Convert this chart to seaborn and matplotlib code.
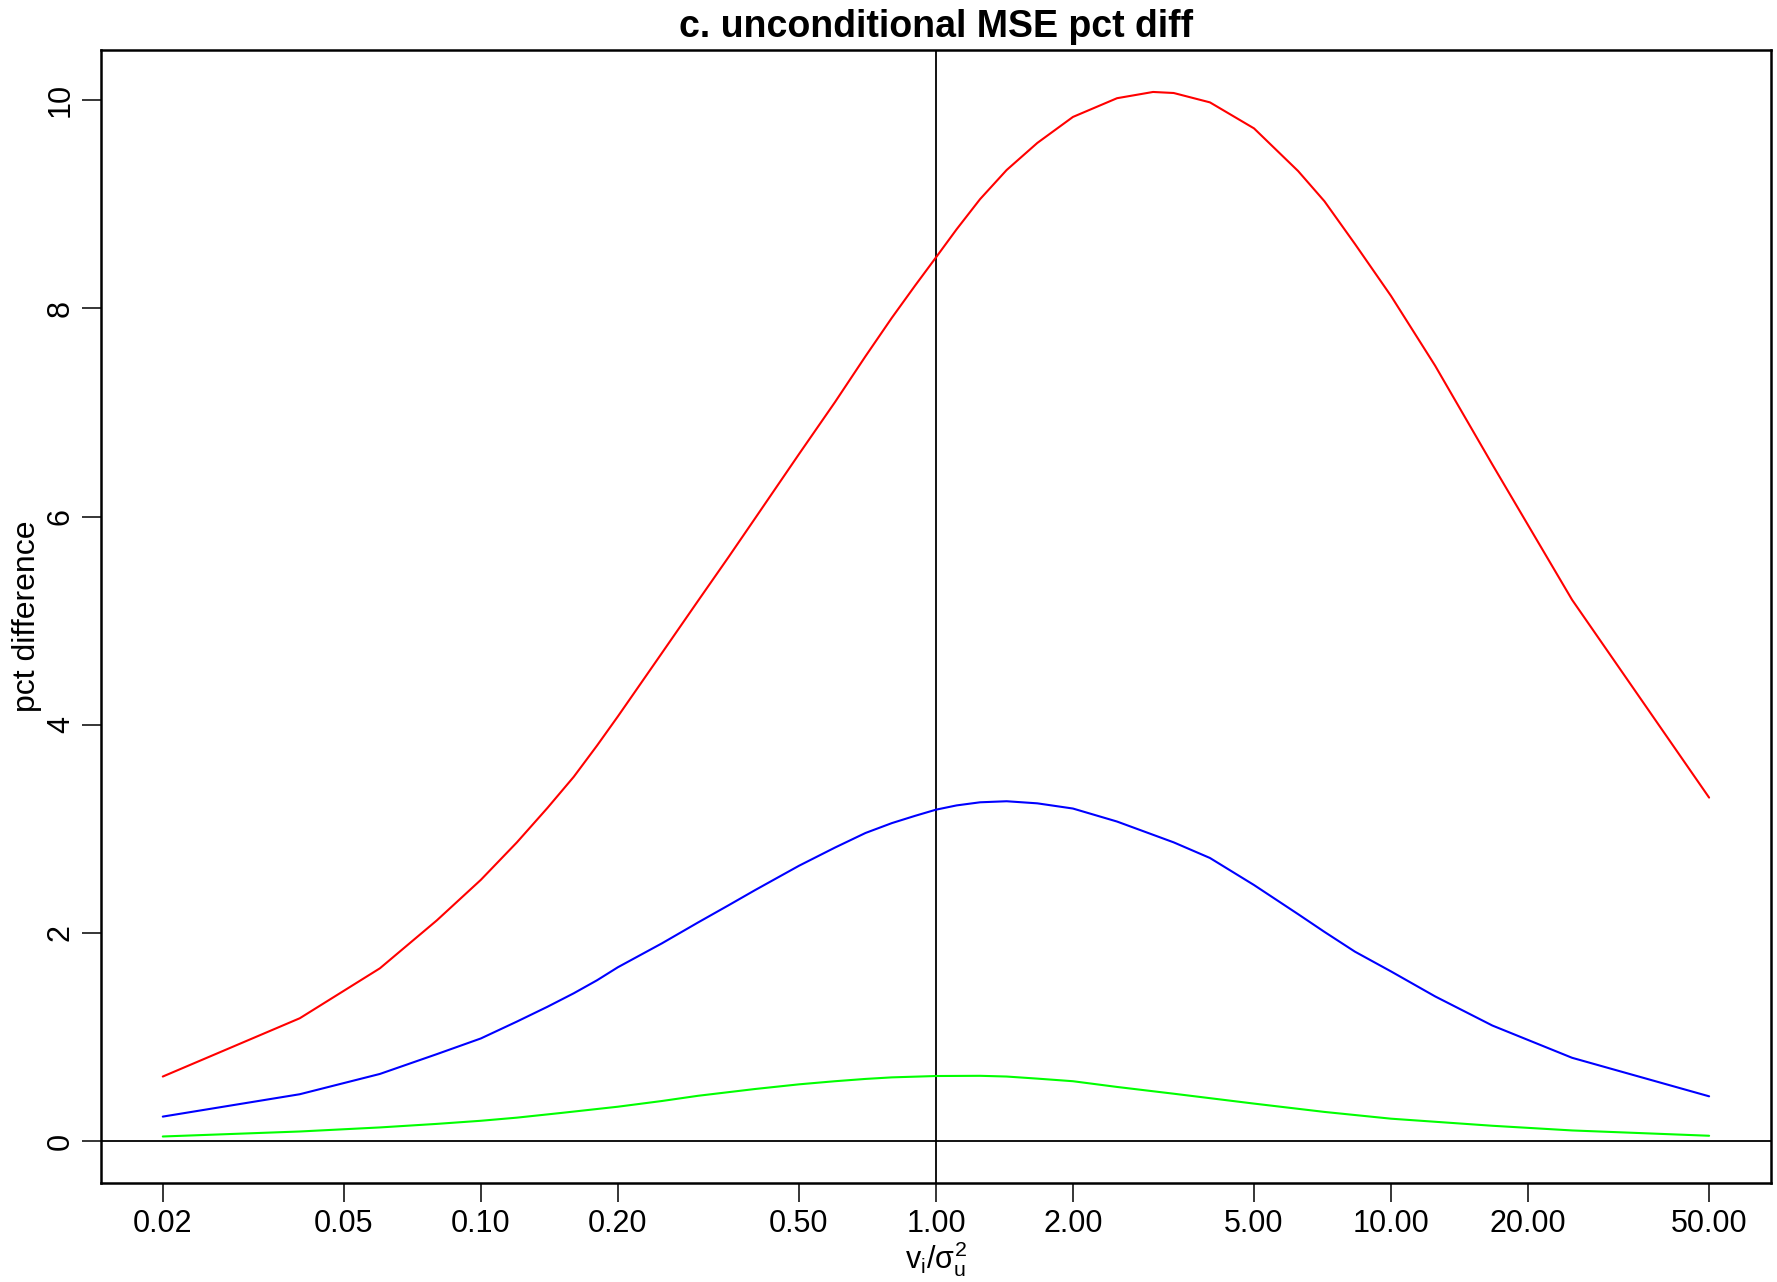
import matplotlib
matplotlib.use("Agg")
import matplotlib.pyplot as plt
import numpy as np
import pandas as pd
import seaborn as sns

sns.set_style("white")
plt.rcParams["font.family"] = ["Liberation Sans", "DejaVu Sans"]
plt.rcParams["mathtext.fontset"] = "custom"
plt.rcParams["mathtext.rm"] = "Liberation Sans"
plt.rcParams["mathtext.it"] = "Liberation Sans"
plt.rcParams["mathtext.bf"] = "Liberation Sans:bold"
plt.rcParams["text.color"] = "black"
plt.rcParams["axes.labelcolor"] = "black"

# values
red_x = [0.02, 0.04, 0.06, 0.08, 0.10, 0.12, 0.14, 0.16, 0.18, 0.20, 0.25, 0.30,
         0.35, 0.40, 0.50, 0.60, 0.70, 0.80, 0.90, 1.00, 1.11, 1.25, 1.43, 1.67,
         2.00, 2.50, 3.00, 3.33, 4.00, 5.00, 6.25, 7.14, 8.33, 10.0, 12.5, 16.7,
         25.0, 50.0]
red_y = [0.62, 1.18, 1.66, 2.12, 2.51, 2.87, 3.20, 3.50, 3.80, 4.08, 4.69, 5.19,
         5.61, 5.98, 6.60, 7.10, 7.54, 7.91, 8.22, 8.49, 8.76, 9.05, 9.33, 9.59,
         9.84, 10.02, 10.08, 10.07, 9.98, 9.73, 9.32, 9.03, 8.62, 8.12, 7.45, 6.50,
         5.20, 3.30]

blue_x = [0.02, 0.04, 0.06, 0.08, 0.10, 0.12, 0.14, 0.16, 0.18, 0.20, 0.25, 0.30,
          0.35, 0.40, 0.50, 0.60, 0.70, 0.80, 0.90, 1.00, 1.11, 1.25, 1.43, 1.67,
          2.00, 2.50, 3.33, 4.00, 5.00, 6.25, 7.14, 8.33, 10.0, 12.5, 16.7, 25.0,
          50.0]
blue_y = [0.235, 0.45, 0.645, 0.835, 0.986, 1.148, 1.29, 1.42, 1.545, 1.67, 1.90,
          2.10, 2.265, 2.41, 2.645, 2.82, 2.96, 3.055, 3.125, 3.184, 3.225, 3.255,
          3.265, 3.245, 3.195, 3.07, 2.87, 2.72, 2.46, 2.18, 2.01, 1.82, 1.63, 1.39,
          1.11, 0.80, 0.43]

green_x = [0.02, 0.04, 0.06, 0.08, 0.10, 0.12, 0.15, 0.20, 0.25, 0.30, 0.40, 0.50,
           0.60, 0.70, 0.80, 1.00, 1.25, 1.43, 1.67, 2.00, 2.50, 3.33, 5.00, 7.14,
           10.0, 16.7, 25.0, 50.0]
green_y = [0.044, 0.092, 0.131, 0.165, 0.195, 0.225, 0.27, 0.33, 0.385, 0.435,
           0.50, 0.545, 0.575, 0.597, 0.612, 0.625, 0.627, 0.62, 0.60, 0.575, 0.52,
           0.455, 0.36, 0.28, 0.215, 0.147, 0.102, 0.051]

x_ticks = [0.02, 0.05, 0.10, 0.20, 0.50, 1.00, 2.00, 5.00, 10.00, 20.00, 50.00]
x_tick_labels = ["0.02", "0.05", "0.10", "0.20", "0.50", "1.00", "2.00",
                 "5.00", "10.00", "20.00", "50.00"]
y_ticks = [0, 2, 4, 6, 8, 10]

df = pd.concat([
    pd.DataFrame({"ratio": red_x, "pct": red_y, "series": "red"}),
    pd.DataFrame({"ratio": blue_x, "pct": blue_y, "series": "blue"}),
    pd.DataFrame({"ratio": green_x, "pct": green_y, "series": "green"}),
])

fig = plt.figure(figsize=(17.77, 12.82), dpi=100)
ax = fig.add_axes([0.0568, 0.0772, 0.9398, 0.8838])

sns.lineplot(data=df, x="ratio", y="pct", hue="series",
             palette={"red": "#ff0000", "blue": "#0000ff", "green": "#00ff00"},
             estimator=None, sort=False, legend=False, linewidth=1.5, ax=ax)

ax.axhline(0, color="black", linewidth=1.3, zorder=1)
ax.axvline(1, color="black", linewidth=1.3, zorder=1)

ax.set_xscale("log")
lo, hi = np.log10(0.02), np.log10(50)
ext = 0.04 * (hi - lo)
ax.set_xlim(10 ** (lo - ext), 10 ** (hi + ext))
ymax = 10.08
ax.set_ylim(-0.04 * ymax, ymax * 1.04)

ax.set_xticks(x_ticks)
ax.set_xticklabels(x_tick_labels)
ax.minorticks_off()
ax.set_yticks(y_ticks)
ax.set_yticklabels([str(v) for v in y_ticks], rotation=90, va="center")

ax.tick_params(axis="both", direction="out", length=14, width=1.1,
               labelsize=22, color="black", labelcolor="black")
ax.tick_params(axis="x", pad=5)
ax.tick_params(axis="y", pad=4)
ax.tick_params(bottom=True, left=True)

for side in ["top", "bottom", "left", "right"]:
    ax.spines[side].set_visible(True)
    ax.spines[side].set_color("black")
    ax.spines[side].set_linewidth(1.8)

ax.set_title("c. unconditional MSE pct diff", fontsize=27, fontweight="bold",
             pad=9, color="black")
ax.set_xlabel(r"$\mathrm{v}_\mathrm{i}/\sigma_\mathrm{u}^2$", fontsize=22, labelpad=0)
ax.set_ylabel("pct difference", fontsize=23, labelpad=3)

fig.savefig("out.png", dpi=100)
